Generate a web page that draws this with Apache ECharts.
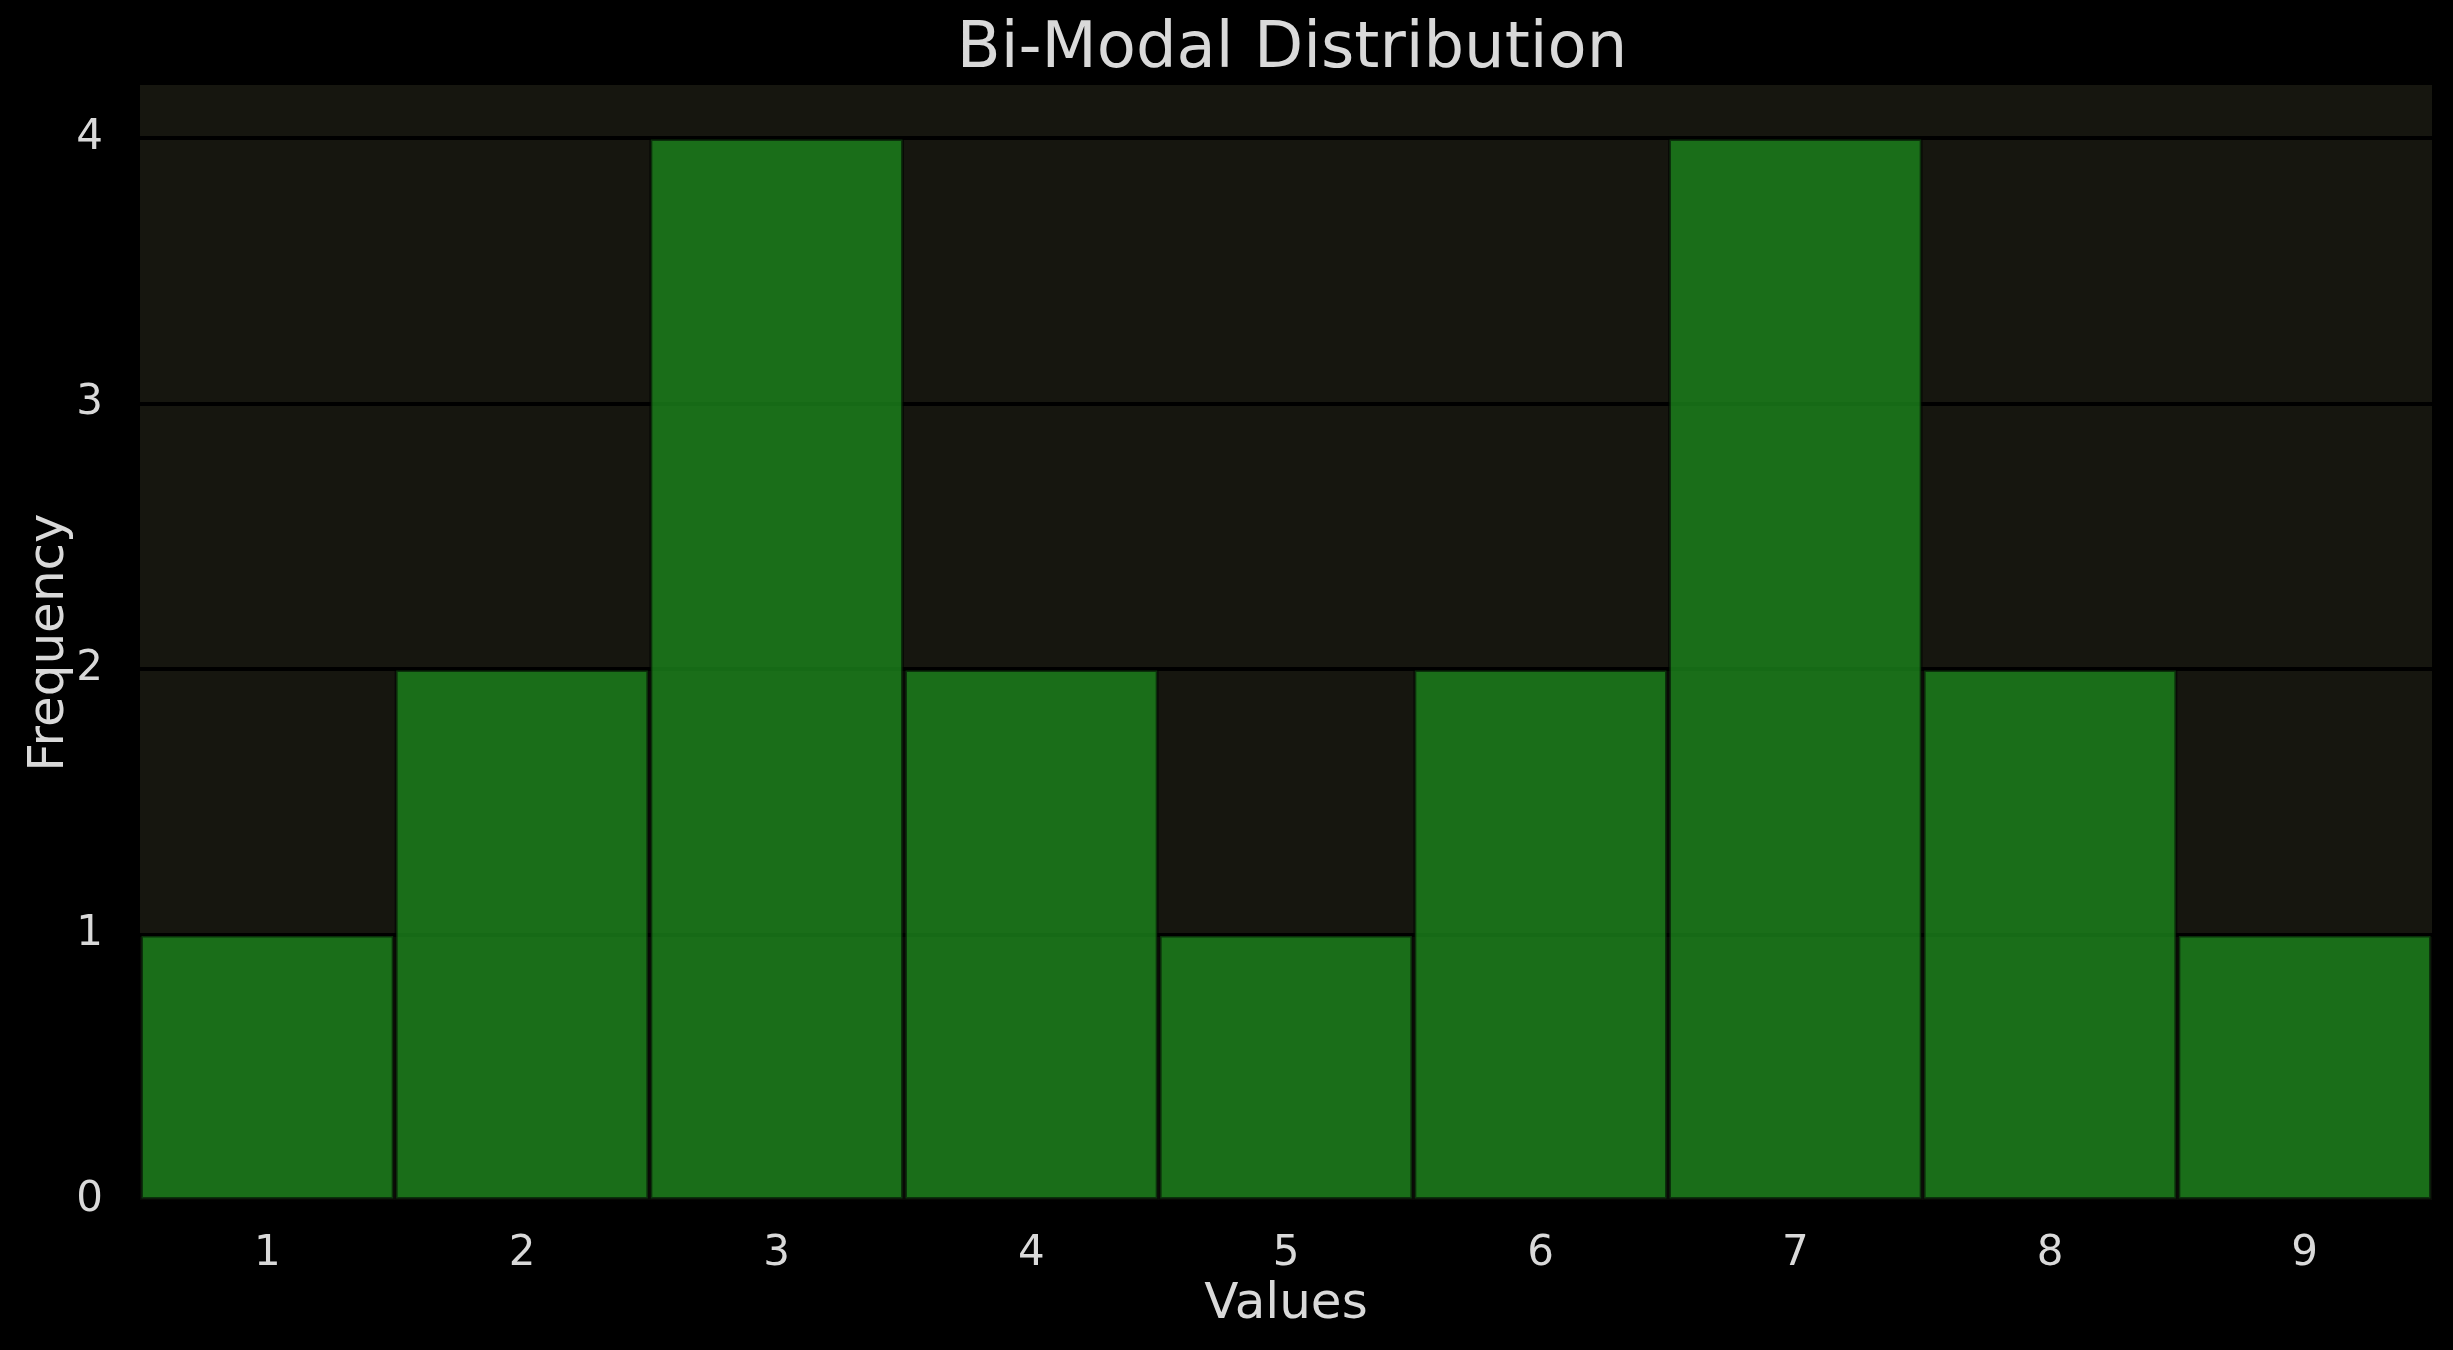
<!DOCTYPE html>
<html><head><meta charset="utf-8">
<script src="https://cdn.jsdelivr.net/npm/echarts@6/dist/echarts.min.js"></script>
<style>html,body{margin:0;padding:0;background:#000;}#c{width:2453px;height:1350px;}</style>
</head><body><div id="c"></div>
<script>
const categories = ['1','2','3','4','5','6','7','8','9'];
const frequencies = [1, 2, 4, 2, 1, 2, 4, 2, 1];
const titleText = 'Bi-Modal Distribution';
const xName = 'Values';
const yName = 'Frequency';

const chart = echarts.init(document.getElementById('c'));
const txt = '#d9d9d9';
const ff = 'DejaVu Sans';
chart.setOption({
  backgroundColor: '#000000',
  animation: false,
  title: {
    text: titleText, left: 1287, top: 13, textAlign: 'center',
    textStyle: { color: txt, fontSize: 64, fontWeight: 'normal', fontFamily: ff }
  },
  grid: {
    left: 140, right: 21, top: 85, bottom: 150,
    show: true, backgroundColor: '#16160f', borderWidth: 0
  },
  xAxis: {
    type: 'category', data: categories,
    axisLine: { show: false }, axisTick: { show: false },
    axisLabel: { color: txt, fontSize: 42, fontFamily: ff, margin: 33 },
    name: xName, nameLocation: 'middle', nameGap: 80, nameMoveOverlap: false,
    nameTextStyle: { color: txt, fontSize: 50, fontFamily: ff }
  },
  yAxis: {
    type: 'value', min: 0, max: 4.2, interval: 1,
    axisLine: { show: false }, axisTick: { show: false },
    axisLabel: { color: txt, fontSize: 42, fontFamily: ff, margin: 37, showMaxLabel: false },
    splitLine: { show: true, showMinLine: false, showMaxLine: false, lineStyle: { color: '#000000', width: 4 } },
    name: yName, nameLocation: 'middle', nameGap: 65, nameMoveOverlap: false,
    nameTextStyle: { color: txt, fontSize: 50, fontFamily: ff }
  },
  series: [{
    type: 'bar', data: frequencies, barWidth: '100%', barCategoryGap: 0,
    itemStyle: { color: 'rgba(28,132,28,0.8)', borderColor: 'rgba(0,0,0,0.55)', borderWidth: 3 }
  }]
});
</script></body></html>
